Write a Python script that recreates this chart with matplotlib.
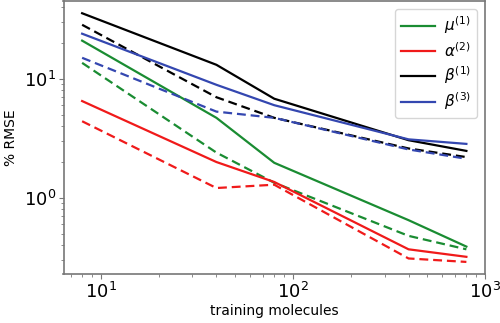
import matplotlib
matplotlib.use("Agg")
import matplotlib.pyplot as plt

# training set sizes
n_train = [8, 40, 80, 400, 800]

# % RMSE, solid = model A, dashed = model B
mu1_solid = [20.9, 4.7, 1.97, 0.65, 0.39]
mu1_dash = [13.6, 2.4, 1.34, 0.48, 0.37]
alpha2_solid = [6.5, 2.0, 1.36, 0.37, 0.32]
alpha2_dash = [4.4, 1.21, 1.29, 0.31, 0.29]
beta1_solid = [35.5, 13.1, 6.8, 3.05, 2.48]
beta1_dash = [28.4, 7.0, 4.7, 2.6, 2.2]
beta3_solid = [23.9, 8.9, 6.0, 3.1, 2.84]
beta3_dash = [15.0, 5.3, 4.7, 2.55, 2.13]

labels = [r'$\mu^{(1)}$', r'$\alpha^{(2)}$', r'$\beta^{(1)}$', r'$\beta^{(3)}$']
colors = ['#1a8c32', '#f01a1a', 'black', '#3447b0']

fig = plt.figure(figsize=(5, 3.23), dpi=100)
ax = fig.add_axes([0.127, 0.152, 0.843, 0.845])

solids = [mu1_solid, alpha2_solid, beta1_solid, beta3_solid]
dashes = [mu1_dash, alpha2_dash, beta1_dash, beta3_dash]

for s, d, lab, c in zip(solids, dashes, labels, colors):
    ax.plot(n_train, s, color=c, lw=1.6, label=lab)
    ax.plot(n_train, d, color=c, lw=1.6, ls='--', dashes=(4, 2.2))

ax.set_xscale('log')
ax.set_yscale('log')
ax.set_xlim(6.4, 1000)
ax.set_ylim(0.23, 45)
ax.set_xlabel('training molecules', fontsize=10, labelpad=2)
ax.set_ylabel('% RMSE', fontsize=10, labelpad=4)
ax.tick_params(labelsize=13, pad=2)
for sp in ax.spines.values():
    sp.set_color('#777777')
    sp.set_linewidth(1.2)
ax.tick_params(which='both', color='#777777')

ax.legend(loc='upper right', fontsize=11, handlelength=2.2, labelspacing=0.3,
          borderpad=0.4, handletextpad=0.6, borderaxespad=0.5)

plt.savefig('out.png', dpi=100)
